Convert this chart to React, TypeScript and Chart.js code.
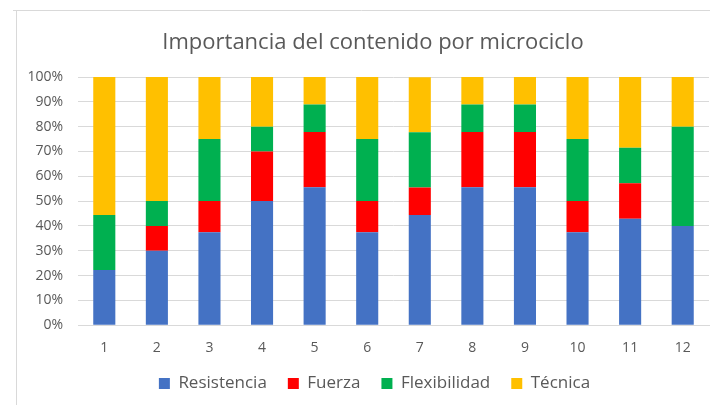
import React, { useEffect, useRef } from "react";
import { Chart, registerables } from "chart.js";

Chart.register(...registerables);

const categories = ["1", "2", "3", "4", "5", "6", "7", "8", "9", "10", "11", "12"];
const resistencia = [22.2, 30, 37.5, 50, 55.6, 37.5, 44.4, 55.6, 55.6, 37.5, 42.9, 40];
const fuerza = [0, 10, 12.5, 20, 22.2, 12.5, 11.1, 22.2, 22.2, 12.5, 14.3, 0];
const flexibilidad = [22.2, 10, 25, 10, 11.1, 25, 22.2, 11.1, 11.1, 25, 14.3, 40];
const tecnica = [55.6, 50, 25, 20, 11.1, 25, 22.2, 11.1, 11.1, 25, 28.5, 20];
const yTicks = [0, 10, 20, 30, 40, 50, 60, 70, 80, 90, 100];
const titleText = "Importancia del contenido por microciclo";

const FONT = "'Open Sans', 'Noto Sans', sans-serif";
const GREY = "#595959";
const LEGEND_SHIFT_X = 12;
const LEGEND_TRIM = 16;

const framePlugin = {
  id: "frame",
  beforeDraw(chart: any) {
    const ctx = chart.ctx;
    ctx.save();
    ctx.strokeStyle = "#d9d9d9";
    ctx.lineWidth = 1;
    ctx.beginPath();
    ctx.moveTo(16.5, 10);
    ctx.lineTo(16.5, 405);
    ctx.moveTo(13, 10.5);
    ctx.lineTo(710, 10.5);
    ctx.stroke();
    ctx.fillStyle = GREY;
    ctx.font = `22px ${FONT}`;
    ctx.textAlign = "center";
    ctx.textBaseline = "middle";
    ctx.fillText(titleText, 373, 43);
    ctx.restore();
  },
};

const legendAdjust = {
  id: "legendAdjust",
  beforeLayout(chart: any) {
    const lg = chart.legend;
    if (lg && !lg._patched) {
      const f = lg.fit.bind(lg);
      lg.fit = function () {
        f();
        this.height -= LEGEND_TRIM;
      };
      lg._patched = true;
    }
  },
  afterLayout(chart: any) {
    const lg = chart.legend;
    if (lg) {
      lg.left += LEGEND_SHIFT_X;
      lg.right += LEGEND_SHIFT_X;
      lg.top -= LEGEND_TRIM;
      lg.height += LEGEND_TRIM;
    }
  },
};

export default function App() {
  const ref = useRef<HTMLCanvasElement>(null);
  useEffect(() => {
    document.body.style.margin = "0";
    const mk = (label: string, data: number[], color: string) => ({
      label,
      data,
      backgroundColor: color,
      borderWidth: 0,
      categoryPercentage: 1,
      barPercentage: 0.42,
    });
    const chart = new Chart(ref.current as HTMLCanvasElement, {
      type: "bar",
      data: {
        labels: categories,
        datasets: [
          mk("Resistencia", resistencia, "#4472C4"),
          mk("Fuerza", fuerza, "#FF0000"),
          mk("Flexibilidad", flexibilidad, "#00B050"),
          mk("Técnica", tecnica, "#FFC000"),
        ],
      },
      options: {
        responsive: false,
        animation: false,
        layout: { padding: { left: 16, right: 1, top: 77, bottom: 3 } },
        plugins: {
          tooltip: { enabled: false },
          title: { display: false },
          legend: {
            position: "bottom",
            labels: {
              color: GREY,
              font: { family: FONT, size: 17 },
              boxWidth: 11,
              boxHeight: 11,
              padding: 21,
            },
          },
        },
        scales: {
          x: {
            stacked: true,
            grid: { display: false, drawTicks: false },
            border: { color: "#d9d9d9" },
            ticks: { color: GREY, font: { family: FONT, size: 14 }, padding: 14 },
          },
          y: {
            stacked: true,
            min: 0,
            max: 100,
            afterBuildTicks: (s: any) => {
              s.ticks = yTicks.map((v) => ({ value: v }));
            },
            afterFit: (s: any) => {
              s.width = 62;
            },
            grid: { color: "#d9d9d9", drawTicks: false },
            border: { display: false },
            ticks: {
              color: GREY,
              font: { family: FONT, size: 14 },
              padding: 15,
              callback: (v: any) => v + "%",
            },
          },
        },
      },
      plugins: [framePlugin, legendAdjust],
    } as any);
    return () => chart.destroy();
  }, []);
  return <canvas ref={ref} width={710} height={405} style={{ display: "block" }} />;
}
